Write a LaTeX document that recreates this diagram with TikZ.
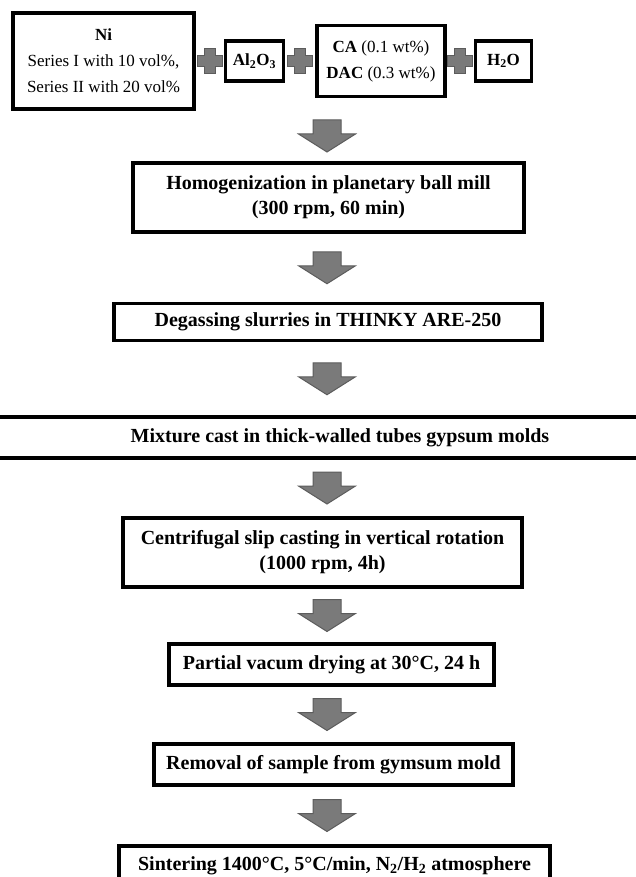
\documentclass[tikz,border=0pt]{standalone}
\usepackage{fontspec}
\setmainfont{Liberation Serif}
\usetikzlibrary{positioning,calc}
\definecolor{arrowgray}{RGB}{122,122,122}
\definecolor{arrowedge}{RGB}{92,92,92}
\begin{document}
\begin{tikzpicture}[x=1pt,y=-1pt,
  stage box/.style={draw,line width=3.5pt,inner sep=0pt,align=center,font=\fontsize{20}{25}\selectfont\bfseries},
  item box/.style={draw,line width=3.5pt,inner sep=0pt,align=center,font=\fontsize{17}{26}\selectfont},
  blockarrow/.pic={\filldraw[fill=arrowgray,draw=arrowedge,line width=1pt]
    (-14,-16) -- (14,-16) -- (14,-2) -- (28.5,-2) -- (0,16) -- (-28.5,-2) -- (-14,-2) -- cycle;},
  plussign/.pic={\filldraw[fill=arrowgray,draw=arrowedge,line width=1pt]
    (-5.5,-12.5) -- (5.5,-12.5) -- (5.5,-5.5) -- (12.5,-5.5) -- (12.5,5.5) -- (5.5,5.5) -- (5.5,12.5)
    -- (-5.5,12.5) -- (-5.5,5.5) -- (-12.5,5.5) -- (-12.5,-5.5) -- (-5.5,-5.5) -- cycle;}]

  \clip (0,0) rectangle (636,877);
  \fill[white] (0,0) rectangle (636,877);
  \coordinate (axis) at (327,0);

  \node[item box,minimum width=181pt,minimum height=96pt] (ni) at (103.5,61)
    {\textbf{Ni}\\Series I with 10 vol\%,\\Series II with 20 vol\%};
  \node[item box,font=\fontsize{17}{26}\selectfont\bfseries,minimum width=58pt,minimum height=40pt,right=28pt of ni] (al)
    {Al\textsubscript{2}O\textsubscript{3}};
  \node[item box,minimum width=128pt,minimum height=71pt,right=30pt of al] (ca)
    {\textbf{CA} (0.1 wt\%)\\\textbf{DAC} (0.3 wt\%)};
  \node[item box,font=\fontsize{17}{26}\selectfont\bfseries,minimum width=56pt,minimum height=40pt,right=27pt of ca] (water)
    {H\textsubscript{2}O};

  \node[stage box,minimum width=391pt,minimum height=69pt] (hom) at (328.5,197.5)
    {Homogenization in planetary ball mill\\(300 rpm, 60 min)};
  \node[stage box,minimum width=428pt,minimum height=37pt] (deg) at (328,322)
    {Degassing slurries in THINKY ARE-250};
  \node[stage box,minimum width=720pt,minimum height=41pt] (mix) at (340,437.5)
    {Mixture cast in thick-walled tubes gypsum molds};
  \node[stage box,minimum width=399pt,minimum height=69pt] (cen) at (322.5,552.5)
    {Centrifugal slip casting in vertical rotation\\(1000 rpm, 4h)};
  \node[stage box,minimum width=325pt,minimum height=41pt] (par) at (331.5,664.5)
    {Partial vacum drying at 30°C, 24 h};
  \node[stage box,minimum width=359pt,minimum height=41pt] (rem) at (333.5,764.5)
    {Removal of sample from gymsum mold};
  \node[stage box,minimum width=431pt,minimum height=40pt] (sin) at (334.5,866)
    {Sintering 1400°C, 5°C/min, N\textsubscript{2}/H\textsubscript{2} atmosphere};

  \foreach \a/\b in {ni/al,al/ca,ca/water}
    \path ($(\a.east)!0.5!(\b.west)$) pic {plussign};
  \path ($(hom.north |- ni.south)!0.5!(hom.north)$) coordinate (m) (m -| axis) pic {blockarrow};
  \foreach \a/\b in {hom/deg,deg/mix,mix/cen,cen/par,par/rem,rem/sin}
    \path ($(\a.south)!0.5!(\b.north)$) coordinate (m) (m -| axis) pic {blockarrow};
\end{tikzpicture}
\end{document}
